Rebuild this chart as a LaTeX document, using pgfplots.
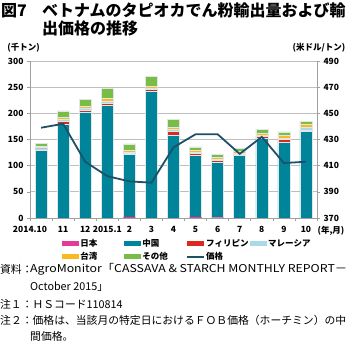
\documentclass[border=0pt]{standalone}
\usepackage{fontspec}
\setmainfont{Noto Sans CJK JP}
\usepackage{graphicx}
\usepackage{pgfplots}
\pgfplotsset{compat=1.18}
\definecolor{japan}{RGB}{228,60,150}
\definecolor{china}{RGB}{0,132,153}
\definecolor{phil}{RGB}{220,40,30}
\definecolor{malay}{RGB}{170,218,232}
\definecolor{taiwan}{RGB}{250,185,30}
\definecolor{other}{RGB}{120,190,70}
\definecolor{pricecol}{RGB}{30,80,105}
\definecolor{gridgray}{RGB}{190,190,190}
\definecolor{axisgray}{RGB}{160,160,160}
\definecolor{bardraw}{RGB}{225,230,230}
\pgfplotsset{
  barleg/.style={legend image code/.code={\fill[##1,draw=none] (0pt,-2.7pt) rectangle (17pt,2.7pt);}},
  linleg/.style={legend image code/.code={\draw[##1] (0pt,0pt)--(17pt,0pt);}},
}
\begin{document}
\begin{tikzpicture}
\path[use as bounding box] (0pt,0pt) rectangle (350pt,350pt);
% title
\node[anchor=west,inner sep=0,font=\bfseries\fontsize{16}{16}\selectfont] at (1pt,339.5pt) {図7};
\node[anchor=west,inner sep=0,font=\bfseries\fontsize{16}{16}\selectfont] at (42pt,339.5pt) {ベトナムのタピオカでん粉輸出量および輸};
\node[anchor=west,inner sep=0,font=\bfseries\fontsize{16}{16}\selectfont] at (42pt,321.5pt) {出価格の推移};
% unit labels
\node[inner sep=0,font=\bfseries\fontsize{8.5}{9}\selectfont] at (23.5pt,302pt) {(千トン)};
\node[inner sep=0,font=\bfseries\fontsize{8.5}{9}\selectfont] at (319pt,302pt) {(米ドル/トン)};
\node[inner sep=0,font=\bfseries\fontsize{8.5}{9}\selectfont] at (331pt,119.5pt) {(年,月)};
\node[inner sep=0,font=\bfseries\fontsize{8.5}{9}\selectfont] at (30pt,120.7pt) {2014.10};

\begin{axis}[
  name=main,
  at={(30pt,132pt)}, anchor=south west, scale only axis,
  width=287pt, height=157pt,
  xmin=-0.5, xmax=12.5, ymin=0, ymax=300,
  ytick={0,50,...,300},
  xtick={0,...,12},
  xticklabels={,11,12,2015.1,2,3,4,5,6,7,8,9,10},
  x tick style={draw=none},
  y tick style={draw=axisgray,line width=0.6pt},
  tick align=outside, major tick length=3pt,
  axis y line*=left, axis x line*=bottom,
  axis line style={draw=axisgray,line width=0.8pt,-},
  ymajorgrids, grid style={draw=gridgray,line width=0.7pt},
  ybar stacked, bar width=12pt,
  /pgf/number format/assume math mode=true,
  ticklabel style={font=\bfseries\fontsize{8.5}{9}\selectfont},
  xticklabel style={yshift=-2pt},
  legend columns=4,
  legend cell align=left,
  legend style={draw=none,fill=none,at={(0.1,-0.11)},anchor=north west,
    font=\bfseries\fontsize{8.5}{9}\selectfont,
    nodes={inner sep=1.5pt,text width=42pt,align=left},
    row sep=1.5pt},
]
\addplot[fill=japan,draw=none,barleg] coordinates {(0,0) (1,0) (2,0) (3,0) (4,2) (5,0) (6,0) (7,2) (8,1) (9,0) (10,0) (11,0) (12,0)};
\addplot[fill=china,draw=bardraw,line width=0.5pt,barleg] coordinates {(0,130) (1,180) (2,203) (3,215) (4,119) (5,243) (6,159) (7,117) (8,106) (9,119) (10,152) (11,145) (12,166)};
\addplot[fill=phil,draw=bardraw,line width=0.5pt,barleg] coordinates {(0,2) (1,4.5) (2,3) (3,4) (4,3) (5,2.5) (6,7) (7,4) (8,3.8) (9,3) (10,4) (11,5) (12,2)};
\addplot[fill=malay,draw=bardraw,line width=0.5pt,barleg] coordinates {(0,3) (1,4) (2,4.5) (3,4) (4,2.5) (5,2) (6,4.5) (7,2) (8,2) (9,2) (10,2) (11,2.5) (12,5.5)};
\addplot[fill=taiwan,draw=bardraw,line width=0.5pt,barleg] coordinates {(0,2) (1,4) (2,3) (3,6) (4,3) (5,4) (6,2.5) (7,4) (8,2.5) (9,3) (10,3) (11,5) (12,6.5)};
\addplot[fill=other,draw=bardraw,line width=0.5pt,barleg] coordinates {(0,6) (1,12) (2,13.5) (3,18) (4,12) (5,18.5) (6,15) (7,7) (8,6) (9,6) (10,9) (11,7) (12,5)};
\addlegendimage{pricecol,line width=1.8pt,linleg}
\legend{日本,中国,フィリピン,マレーシア,台湾,その他,価格}
\end{axis}

\begin{axis}[
  at={(main.south west)}, anchor=south west, scale only axis,
  width=287pt, height=157pt,
  xmin=-0.5, xmax=12.5, ymin=370, ymax=490,
  ytick={370,390,...,490},
  xtick={-0.5,0.5,...,12.5}, xticklabels={},
  tick align=outside, major tick length=3pt,
  tick style={draw=axisgray,line width=0.6pt},
  axis y line*=right, axis x line*=bottom,
  axis line style={draw=axisgray,line width=0.8pt,-},
  /pgf/number format/assume math mode=true,
  ticklabel style={font=\bfseries\fontsize{8.5}{9}\selectfont},
]
\addplot[color=pricecol,line width=1.8pt] coordinates {(0,439) (1,442) (2,413) (3,402) (4,398) (5,397) (6,424) (7,434) (8,434) (9,419) (10,432) (11,412) (12,413)};
\end{axis}

% notes
\begin{scope}[every node/.style={anchor=west,inner sep=0,font=\fontsize{10.8}{11}\selectfont}]
\node at (0pt,80.5pt) {資料：};
\node at (30pt,80.5pt) {\resizebox{317pt}{\height}{AgroMonitor「CASSAVA \& STARCH MONTHLY REPORT－}};
\node at (30pt,63.5pt) {October 2015」};
\node at (0pt,46pt) {注１：ＨＳコード110814};
\node at (0pt,30pt) {\resizebox{346pt}{\height}{注２：価格は、当該月の特定日におけるＦＯＢ価格（ホーチミン）の中}};
\node at (30pt,14pt) {間価格。};
\end{scope}
\end{tikzpicture}
\end{document}
